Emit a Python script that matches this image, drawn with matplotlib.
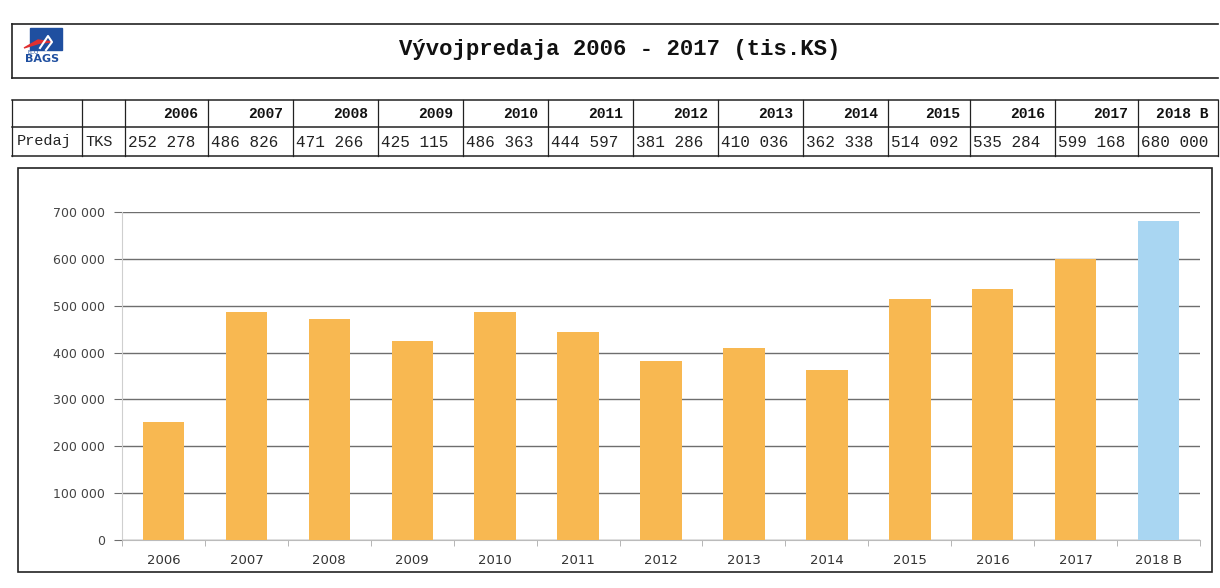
import matplotlib.pyplot as plt
from matplotlib.patches import Rectangle, Polygon
from matplotlib.ticker import FuncFormatter, FixedLocator

years = ["2006", "2007", "2008", "2009", "2010", "2011", "2012",
         "2013", "2014", "2015", "2016", "2017", "2018 B"]
sales = [252278, 486826, 471266, 425115, 486363, 444597, 381286,
         410036, 362338, 514092, 535284, 599168, 680000]
title = "Vývojpredaja 2006 - 2017 (tis.KS)"
row_label = "Predaj"
unit_label = "TKS"

W, H = 1220, 588
orange = "#F8B851"
blue = "#A9D6F2"
mono = "Liberation Mono"

def fmt(v):
    return f"{v:,}".replace(",", " ")

fig = plt.figure(figsize=(W / 100, H / 100), dpi=100)

# background axes in pixel coords for boxes, table and title
bg = fig.add_axes([0, 0, 1, 1])
bg.set_xlim(0, W)
bg.set_ylim(H, 0)
bg.axis("off")

# title box
bg.plot([12, 1218], [24, 24], color="#222", lw=1.2)
bg.plot([12, 1218], [78, 78], color="#222", lw=1.2)
bg.plot([12, 12], [24, 78], color="#222", lw=1.2)
bg.text(620, 49, title, ha="center", va="center", fontsize=16,
        family=mono, fontweight="bold", color="#111")

# logo (simple stand-in)
bg.add_patch(Rectangle((30, 28), 32, 22, color="#1f4fa0"))
bg.add_patch(Polygon([[24, 48], [38, 40], [52, 42], [40, 43]], closed=True,
                     color="#e03030"))
bg.plot([40, 48, 52, 46], [48, 36, 42, 50], color="white", lw=1.5)
bg.text(27, 52, "ECO", fontsize=4, color="#1f4fa0", va="center")
bg.text(25, 59, "BAGS", fontsize=8, color="#1f4fa0", fontweight="bold",
        va="center", family="DejaVu Sans")

# table
cols = [12, 82, 125, 208, 293, 378, 463, 548, 633, 718, 803, 888, 970,
        1055, 1138, 1218]
t_top, t_mid, t_bot = 100, 127, 156
for y in (t_top, t_mid, t_bot):
    bg.plot([cols[0], cols[-1]], [y, y], color="#222", lw=1.1)
for x in cols:
    bg.plot([x, x], [t_top, t_bot], color="#222", lw=0.9)
bg.text(cols[0] + 5, (t_mid + t_bot) / 2, row_label, family=mono,
        fontsize=11, va="center", ha="left", color="#222")
bg.text(cols[1] + 3, (t_mid + t_bot) / 2, unit_label, family=mono,
        fontsize=11, va="center", ha="left", color="#222")
for i, (yr, v) in enumerate(zip(years, sales)):
    x0, x1 = cols[i + 2], cols[i + 3]
    bg.text(x1 - 10, (t_top + t_mid) / 2, yr, family=mono, fontsize=10.5,
            fontweight="bold", ha="right", va="center", color="#111")
    bg.text(x0 + 3, (t_mid + t_bot) / 2 + 1, fmt(v), family=mono,
            fontsize=11.5, ha="left", va="center", color="#222")

# chart frame
bg.add_patch(Rectangle((18, 168), 1194, 404, fill=False, ec="#222", lw=1.2))

# chart
left, right, top, bottom = 122, 1200, 212, 540
ax = fig.add_axes([left / W, 1 - bottom / H, (right - left) / W,
                   (bottom - top) / H])
x = range(len(years))
colors = [orange] * (len(years) - 1) + [blue]
ax.bar(x, sales, width=0.5, color=colors, zorder=3)
ax.set_xlim(-0.5, len(years) - 0.5)
ax.set_ylim(0, 700000)
ax.set_yticks(range(0, 700001, 100000))
ax.yaxis.set_major_formatter(FuncFormatter(lambda v, p: fmt(int(v))))
ax.yaxis.grid(True, color="#6e6e6e", lw=1.0, zorder=0)
ax.set_xticks(list(x))
ax.set_xticklabels(years)
ax.xaxis.set_minor_locator(FixedLocator([i - 0.5 for i in range(len(years) + 1)]))
ax.tick_params(axis="x", which="major", length=0, pad=10,
               labelsize=9.5, labelcolor="#333")
ax.tick_params(axis="x", which="minor", length=4, color="#aaa")
ax.tick_params(axis="y", length=6, color="#6e6e6e", labelsize=9,
               labelcolor="#444", pad=6)
for s in ("top", "right"):
    ax.spines[s].set_visible(False)
ax.spines["left"].set_color("#cfcfcf")
ax.spines["bottom"].set_color("#bbbbbb")
ax.set_facecolor("none")

fig.savefig("out.png", dpi=100)
